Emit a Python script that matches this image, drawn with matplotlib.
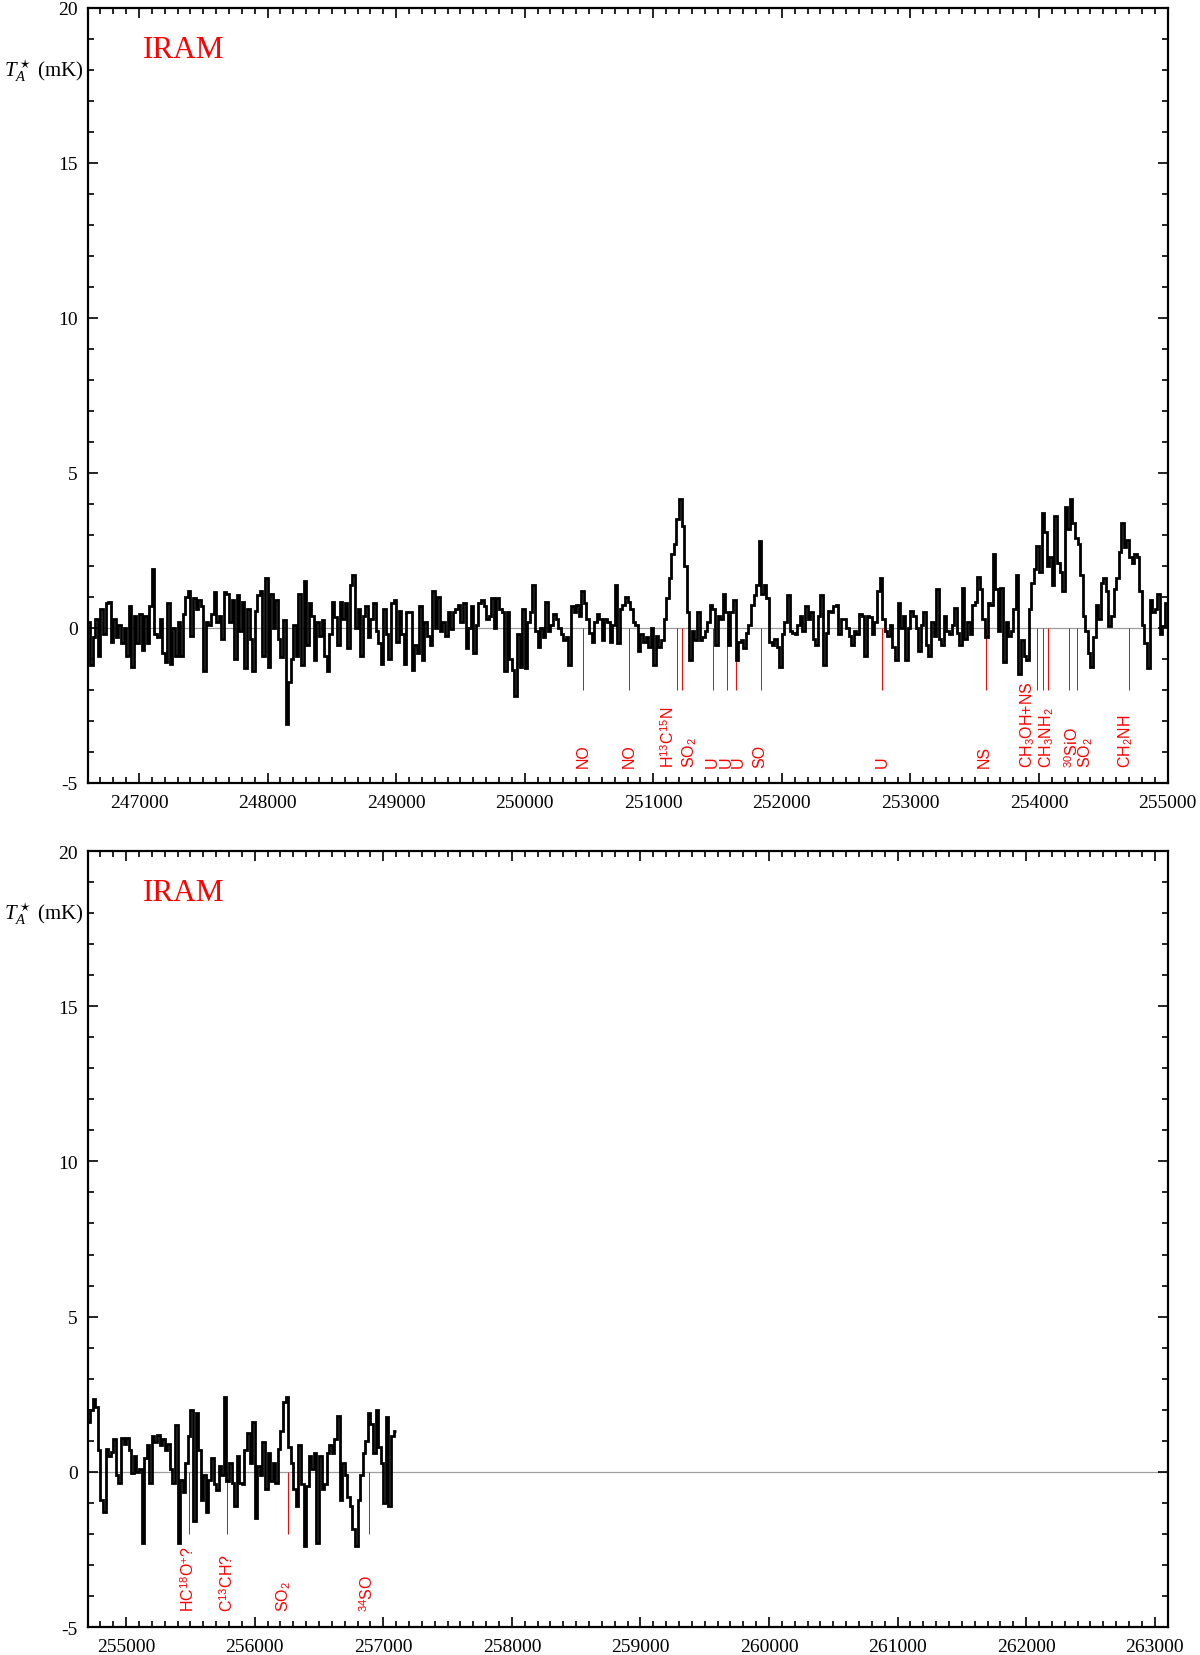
import numpy as np
import matplotlib
matplotlib.use("Agg")
import matplotlib.pyplot as plt
import matplotlib.transforms as mtransforms
from matplotlib import font_manager
from matplotlib.ticker import MultipleLocator, FormatStrFormatter

# --- spectrum data (T_A* in mK, 20 MHz channels) ---
chan_mhz = 20.0
top_start_mhz = 246600.0
top_ta = [
    0.2, -1.2, -0.3, 0.3, -0.9, 0.6, -0.2, 0.8, 0.85, -0.45,
    0.3, -0.3, 0.1, -0.5, 0.0, -0.9, 0.7, -1.25, 0.4, -0.5,
    0.45, -0.7, 0.4, -0.5, 0.7, 1.9, -0.2, -0.3, 0.3, -0.8,
    -1.1, 0.8, -1.15, 0.0, -0.9, 0.2, -0.9, 0.45, 1.0, 1.2,
    -0.25, 0.95, 0.6, 0.9, 0.7, -1.4, 0.2, 0.1, 0.45, 1.15,
    0.2, 0.4, -0.35, 1.15, 1.1, 0.2, 0.9, -1.0, 1.05, -0.1,
    0.85, -1.3, 0.6, -0.35, -1.4, 0.55, 1.05, 1.2, -0.9, 1.6,
    -1.25, 1.1, 0.0, 0.9, -0.35, -0.95, 0.25, -3.1, -1.75, -1.0,
    0.1, -0.9, 1.1, -1.2, 1.5, -0.55, 0.8, 0.4, -1.05, 0.2,
    -0.25, 0.25, -0.9, -1.4, -0.2, 0.85, 0.35, -0.55, 0.85, 0.3,
    0.8, -0.65, 1.4, 1.7, 0.0, 0.6, -0.9, 0.4, 0.7, -0.3,
    0.3, 0.8, -0.1, -0.5, -1.15, 0.6, -0.2, -1.0, 0.8, 0.9,
    -0.45, 0.55, -0.2, -1.15, 0.5, 0.5, -1.35, -0.55, -0.8, 0.7,
    -1.05, 0.2, -0.25, -0.55, 1.2, 0.0, 1.0, -0.1, 0.2, -0.25,
    0.5, -0.05, 0.5, 0.6, 0.75, 0.2, 0.8, -0.65, 0.0, 0.7,
    -0.8, 0.1, 0.8, 0.9, 0.7, 0.3, 0.4, 0.95, 0.0, 0.95,
    0.6, 0.5, -1.4, 0.5, -1.0, -1.35, -2.2, -0.2, -1.25, 0.6,
    -1.3, 0.2, 0.5, 1.4, -0.1, -0.6, 0.0, -0.3, 0.85, -0.1,
    0.1, 0.45, 0.3, 0.0, -0.2, -0.4, -0.3, -1.2, 0.7, 0.5,
    0.75, 0.4, 1.2, 0.8, 0.3, -0.15, -0.45, 0.2, 0.45, 0.3,
    -0.4, 0.3, 0.2, -0.45, 0.1, 1.4, -0.5, 0.6, 0.75, 1.0,
    0.85, 0.6, 0.2, 0.1, -0.75, -0.2, -0.45, -0.3, -0.6, 0.0,
    -1.2, -0.25, -0.6, -0.4, 0.3, 0.95, 1.6, 2.4, 2.7, 3.5,
    4.15, 3.3, 2.0, 0.5, -1.05, -0.1, -0.4, 0.5, -0.4, -0.3,
    -0.1, 0.2, 0.75, 0.6, -0.55, 0.4, 0.3, 1.1, 0.5, -0.55,
    0.5, 0.9, -1.05, -0.45, -0.4, -0.65, -0.15, 0.1, 0.75, 1.05,
    1.4, 2.8, 1.1, 1.4, 0.95, -0.45, -0.55, -0.35, -0.6, -1.25,
    -0.2, 0.2, 1.05, -0.1, -0.15, -0.2, 0.1, 0.4, -0.1, 0.7,
    0.3, 0.5, -0.35, -0.55, 0.4, 1.05, -1.2, -0.15, 0.55, 0.5,
    0.7, 0.75, -0.2, 0.3, 0.3, 0.0, -0.25, -0.55, -0.1, -0.2,
    0.45, 0.4, -0.9, 0.4, 0.35, -0.2, 0.2, 1.2, 1.6, 0.3,
    -0.1, -0.25, 0.1, -0.6, -1.05, 0.8, 0.0, 0.4, -1.05, 0.0,
    0.55, 0.4, 0.0, -0.75, 0.1, 0.5, -0.55, -0.9, 0.2, -0.25,
    1.25, -0.35, -0.55, 0.4, -0.1, -0.2, 0.1, 0.65, -0.15, -0.55,
    1.3, -0.35, 0.2, -0.2, 0.75, 0.85, 1.65, 1.25, 0.3, -0.3,
    0.8, 0.75, 2.4, 1.25, -0.1, 1.3, -1.1, 0.2, -0.25, -0.1,
    0.6, 1.7, -1.5, -0.4, -0.9, -1.05, 0.6, 1.45, 1.9, 2.65,
    1.8, 3.7, 3.1, 2.0, 2.3, 1.4, 3.6, 2.1, 1.8, 1.2,
    3.9, 3.2, 4.15, 3.4, 2.9, 2.7, 1.7, 0.4, -0.1, -0.8,
    -1.25, -0.3, 0.75, 0.3, 1.45, 1.6, 1.2, 0.05, 0.4, 1.25,
    1.6, 2.45, 3.4, 2.6, 2.85, 2.3, 2.1, 2.4, 2.3, 1.2,
    0.1, -0.5, -1.3, 0.9, 0.5, 0.6, 1.1, -0.2, 0.05, 0.8,
]

bot_start_mhz = 254700.0
bot_ta = [
    1.6, 2.0, 2.35, 2.1, 0.7, -0.9, -1.3, 0.75, 0.5, 0.65,
    1.05, -0.1, -0.35, 1.1, 0.9, 1.1, 0.7, -0.05, 0.5, 0.0,
    0.1, -2.3, 0.45, 0.85, -0.35, 1.15, 0.95, 1.2, 0.85, 1.05,
    0.7, 0.9, 0.1, -0.35, 1.5, -2.3, -0.25, -0.65, 0.3, 1.15,
    2.0, -1.6, 1.9, 0.7, -0.9, -0.1, -1.3, -0.25, 0.45, -0.4,
    -0.6, 0.2, -0.1, 2.4, -0.3, 0.3, -0.35, -1.1, 0.5, -0.35,
    -0.4, 0.7, 1.25, 0.3, 1.6, -1.5, 0.2, -0.1, 0.95, -0.55,
    0.6, -0.3, 0.3, -0.35, 0.75, 1.3, 2.25, 2.4, 0.8, 0.3,
    -0.55, -1.1, 0.85, -0.4, -2.4, -0.45, 0.5, 0.1, 0.6, -2.3,
    0.5, -0.55, -0.4, 0.6, 0.85, 0.6, 1.05, 1.8, -0.9, 0.3,
    -0.1, -0.8, -1.1, -1.85, -2.4, -0.9, -0.1, 0.6, 1.0, 1.9,
    1.55, 0.6, 2.0, 0.8, 0.3, -1.0, 1.75, -1.1, 1.15, 1.3,
]

# --- line identifications (MHz) ---
top_line_mhz = [250453, 250813, 251187, 251220, 251461, 251570, 251640,
                251838, 252782, 253589, 253983, 254030, 254066, 254232,
                254292, 254699]
top_label_mhz = [250455, 250813, 251118, 251282, 251456, 251567, 251662,
                 251825, 252782, 253576, 253912, 254060, 254254, 254367,
                 254677]
top_label_txt = ['NO', 'NO', r'H$^{13}$C$^{15}$N', r'SO$_2$', 'U', 'U', 'U',
                 'SO', 'U', 'NS', r'CH$_3$OH+NS', r'CH$_3$NH$_2$',
                 r'$^{30}$SiO', r'SO$_2$', r'CH$_2$NH']

bot_line_mhz = [255489, 255788, 256259, 256888]
bot_label_mhz = [255483, 255788, 256228, 256876]
bot_label_txt = [r'HC$^{18}$O$^{+}$?', r'C$^{13}$CH?', r'SO$_2$', r'$^{34}$SO']

top_xlim = (246600, 255000)
bot_xlim = (254700, 263100)
ylim = (-5, 20)

# --- fonts ---
names = {f.name for f in font_manager.fontManager.ttflist}
lab_font = 'Liberation Sans Narrow' if 'Liberation Sans Narrow' in names else 'Liberation Sans'
plt.rcParams['font.family'] = ['Liberation Serif', 'DejaVu Serif']
plt.rcParams['mathtext.fontset'] = 'custom'
plt.rcParams['mathtext.rm'] = lab_font
plt.rcParams['mathtext.it'] = 'Liberation Serif:italic'
plt.rcParams['axes.unicode_minus'] = False

fig = plt.figure(figsize=(12, 16.56), dpi=100)
ax_top = fig.add_axes([0.073, 0.5266, 0.9, 0.468])
ax_bot = fig.add_axes([0.073, 0.0169, 0.9, 0.4686])


def draw_panel(ax, start, ta, xlim, lines, label_pos, label_txt):
    ta = np.asarray(ta)
    edges = start + chan_mhz * np.arange(len(ta) + 1)
    ax.axhline(0, color='0.62', lw=0.9, zorder=1)
    ax.stairs(ta, edges, baseline=None, color='black', lw=2.0, zorder=3)
    ax.vlines(lines, -2, 0, color='red', lw=0.7, zorder=2)
    for f, t in zip(label_pos, label_txt):
        ax.text(f, -4.5, t, rotation=90, ha='center', va='bottom',
                color='red', fontsize=11.5, family=lab_font)

    ax.set_xlim(*xlim)
    ax.set_ylim(*ylim)
    ax.xaxis.set_major_locator(MultipleLocator(1000))
    ax.xaxis.set_minor_locator(MultipleLocator(100))
    ax.xaxis.set_major_formatter(FormatStrFormatter('%d'))
    ax.yaxis.set_major_locator(MultipleLocator(5))
    ax.yaxis.set_minor_locator(MultipleLocator(1))
    ax.yaxis.set_major_formatter(FormatStrFormatter('%d'))
    ax.tick_params(which='both', direction='in', top=True, right=True,
                   width=1.2, labelsize=14)
    ax.tick_params(which='major', length=7)
    ax.tick_params(which='minor', length=4)
    ax.tick_params(axis='x', pad=8)
    ax.tick_params(axis='y', pad=7)
    for s in ax.spines.values():
        s.set_linewidth(1.6)

    ax.text(0.051, 0.937, 'IRAM', transform=ax.transAxes, color='red',
            fontsize=22.5, va='baseline')
    trans = mtransforms.blended_transform_factory(ax.transAxes, ax.transData)
    ax.text(-0.004, 18, r'$T_A^\star$ (mK)', transform=trans,
            ha='right', va='center', fontsize=15)


draw_panel(ax_top, top_start_mhz, top_ta, top_xlim,
           top_line_mhz, top_label_mhz, top_label_txt)
draw_panel(ax_bot, bot_start_mhz, bot_ta, bot_xlim,
           bot_line_mhz, bot_label_mhz, bot_label_txt)

fig.savefig('out.png', dpi=100)
